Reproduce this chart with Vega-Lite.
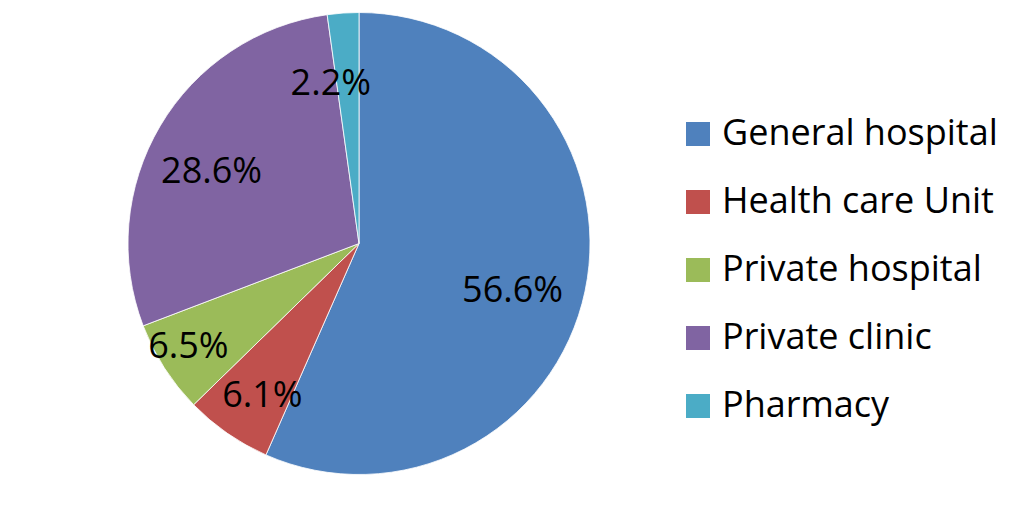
{
  "$schema": "https://vega.github.io/schema/vega-lite/v6.json",
  "width": 718,
  "height": 487,
  "padding": 0,
  "background": "white",
  "config": {"view": {"stroke": null}, "font": "Open Sans"},
  "data": {"values": [
    {"category": "General hospital", "value": 56.6, "label": "56.6%", "idx": 1},
    {"category": "Health care Unit", "value": 6.1, "label": "6.1%", "idx": 2},
    {"category": "Private hospital", "value": 6.5, "label": "6.5%", "idx": 3},
    {"category": "Private clinic", "value": 28.6, "label": "28.6%", "idx": 4},
    {"category": "Pharmacy", "value": 2.2, "label": "2.2%", "idx": 5}
  ]},
  "encoding": {
    "theta": {"field": "value", "type": "quantitative", "stack": true},
    "order": {"field": "idx", "type": "quantitative"}
  },
  "layer": [
    {
      "mark": {"type": "arc", "radius": 231, "stroke": "#ffffff", "strokeWidth": 0.8},
      "encoding": {
        "color": {
          "field": "category", "type": "nominal",
          "scale": {
            "domain": ["General hospital", "Health care Unit", "Private hospital", "Private clinic", "Pharmacy"],
            "range": ["#4F81BD", "#C0504D", "#9BBB59", "#8064A2", "#4BACC6"]
          },
          "legend": {
            "title": null, "orient": "none", "legendX": 680, "legendY": 116,
            "padding": 0, "symbolType": "square", "symbolSize": 576, "symbolStrokeWidth": 0,
            "symbolOpacity": 1, "labelFontSize": 36, "labelFont": "Open Sans", "labelColor": "#000000",
            "labelOffset": 6, "rowPadding": 32, "labelLimit": 400
          }
        }
      }
    },
    {
      "mark": {"type": "text", "radius": 162, "fontSize": 36, "font": "Open Sans", "align": "center", "baseline": "middle", "color": "#000000", "dx": -5, "dy": 14},
      "encoding": {"text": {"condition": {"test": "datum.category === 'General hospital'", "field": "label"}, "value": ""}}
    },
    {
      "mark": {"type": "text", "radius": 162, "fontSize": 36, "font": "Open Sans", "align": "center", "baseline": "middle", "color": "#000000", "dx": -8, "dy": 11},
      "encoding": {"text": {"condition": {"test": "datum.category === 'Private clinic'", "field": "label"}, "value": ""}}
    },
    {
      "mark": {"type": "text", "radius": 162, "fontSize": 36, "font": "Open Sans", "align": "center", "baseline": "middle", "color": "#000000", "dx": -17, "dy": 2},
      "encoding": {"text": {"condition": {"test": "datum.category === 'Pharmacy'", "field": "label"}, "value": ""}}
    },
    {
      "mark": {"type": "text", "radius": 199, "fontSize": 36, "font": "Open Sans", "align": "center", "baseline": "middle", "color": "#000000", "dx": -3, "dy": -4},
      "encoding": {"text": {"condition": {"test": "datum.category === 'Private hospital'", "field": "label"}, "value": ""}}
    },
    {
      "mark": {"type": "text", "radius": 180, "fontSize": 36, "font": "Open Sans", "align": "center", "baseline": "middle", "color": "#000000", "dx": 6, "dy": 5},
      "encoding": {"text": {"condition": {"test": "datum.category === 'Health care Unit'", "field": "label"}, "value": ""}}
    }
  ]
}
